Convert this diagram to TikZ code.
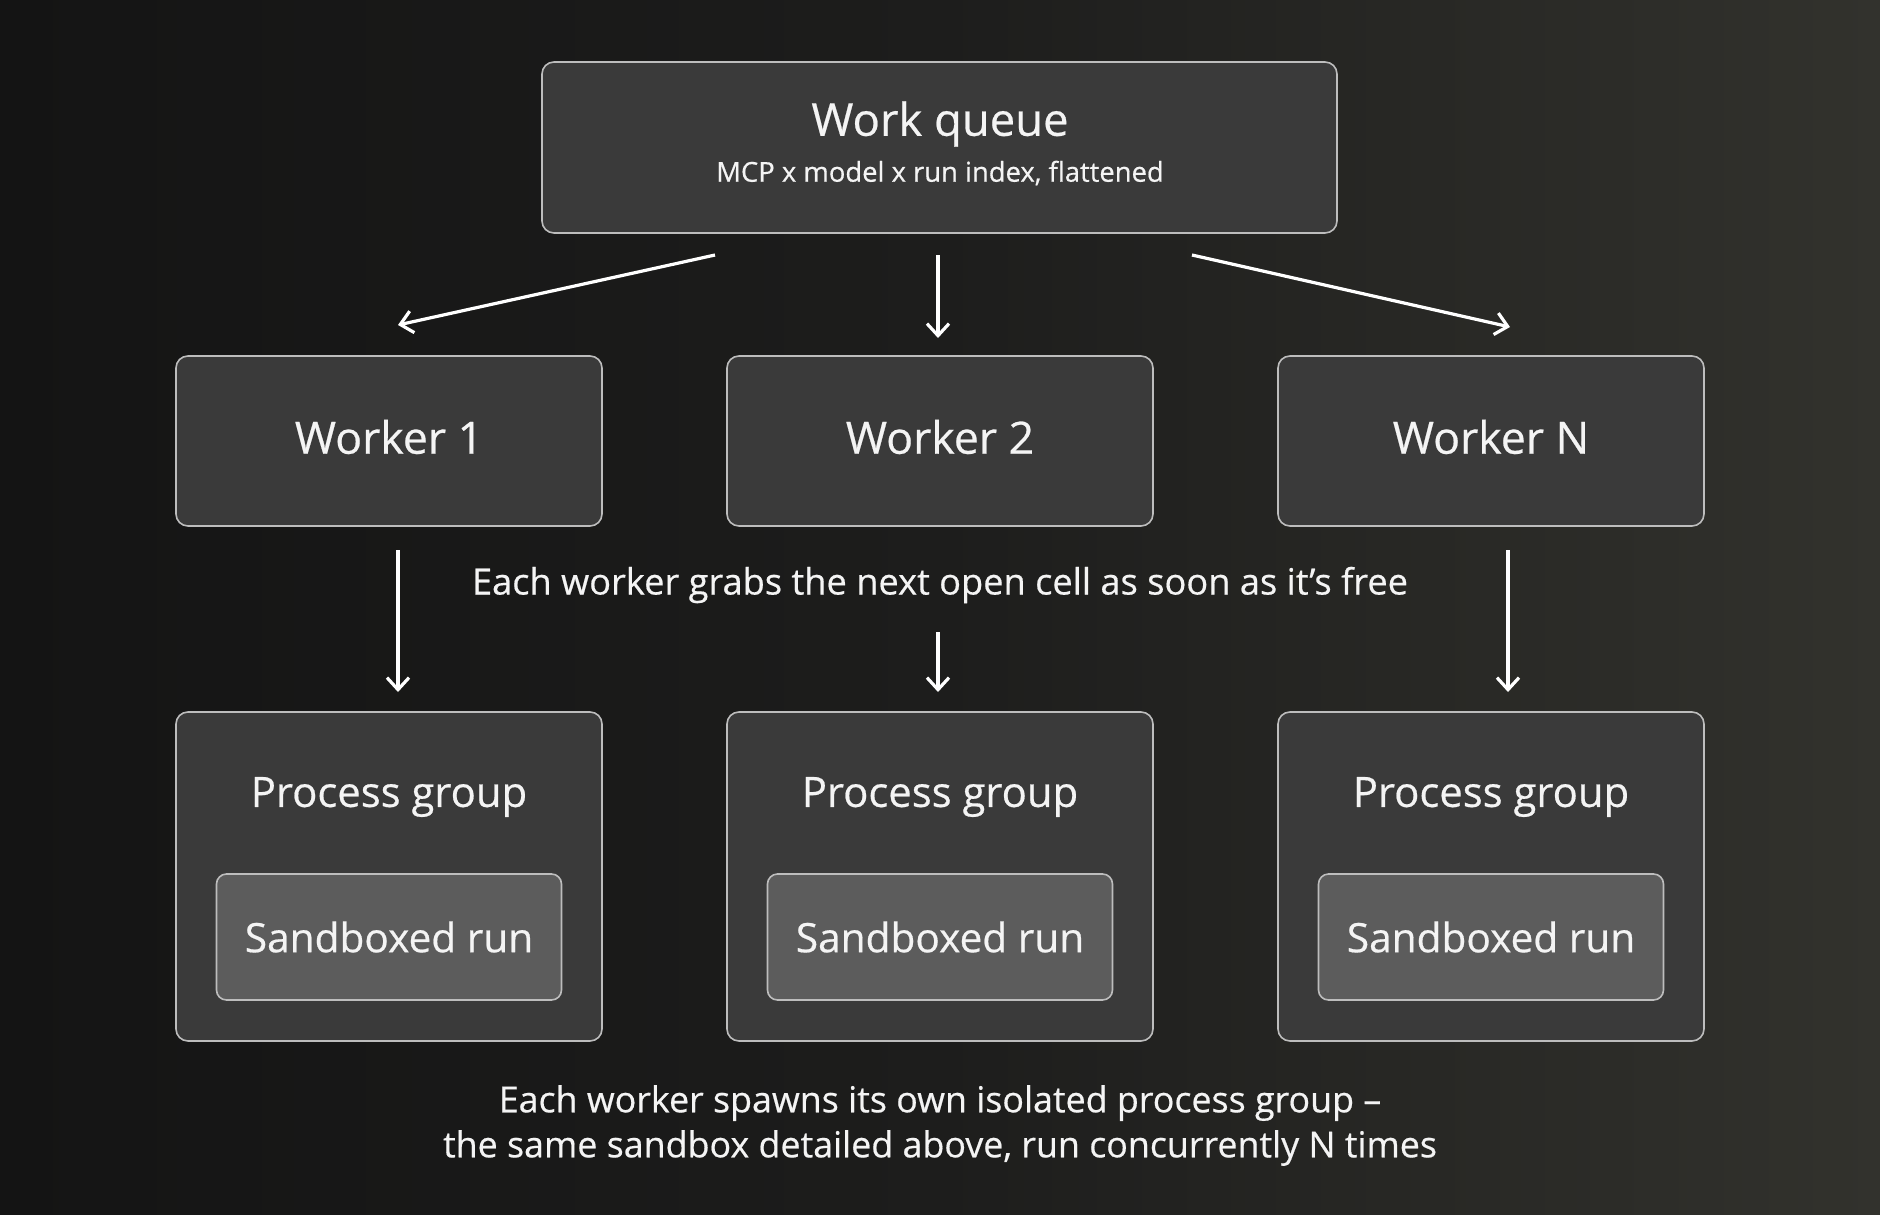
\documentclass[tikz,border=0pt]{standalone}
\usepackage{fontspec}
\setmainfont{Open Sans}[FakeBold=0.5]
\usetikzlibrary{arrows.meta}
\definecolor{bgL}{HTML}{141414}
\definecolor{bgM}{HTML}{1D1D1C}
\definecolor{bgR}{HTML}{32322D}
\definecolor{boxfill}{HTML}{3A3A3A}
\definecolor{boxline}{HTML}{BDBDBD}
\definecolor{innerfill}{HTML}{5C5C5C}
\definecolor{txt}{HTML}{F4F4F4}
\tikzset{
  card/.style={draw=boxline, fill=boxfill, line width=0.8pt, rounded corners=6pt, inner sep=0pt},
  inner/.style={draw=boxline, fill=innerfill, line width=0.8pt, rounded corners=5pt, inner sep=0pt, minimum width=172.5pt, minimum height=63pt},
  lbl/.style={text=txt, inner sep=0pt, anchor=center},
  flow/.style={draw=white, line width=1.6pt, -{Straight Barb[length=6pt,width=11pt,line width=1.6pt]}},
}
\begin{document}
\begin{tikzpicture}[x=0.5pt,y=-0.5pt]
\shade[left color=bgL, right color=bgR, middle color=bgM, shading angle=90] (0,0) rectangle (1880,1215);
\useasboundingbox (0,0) rectangle (1880,1215);
% work queue
\node[card, minimum width=397.5pt, minimum height=85.5pt] (wq) at (939.5,147.5) {};
\node[lbl, font=\fontsize{22.7}{27}\selectfont] (wqt) at (940,124) {Work queue};
\node[lbl, font=\fontsize{13.7}{16}\selectfont] (wqs) at (940,173) {MCP x model x run index, flattened};
% workers
\foreach \n/\x/\t in {w1/389/Worker 1, w2/940/Worker 2, wn/1491/Worker N}{
  \node[card, minimum width=213pt, minimum height=85pt] (\n) at (\x,441) {};
  \node[lbl, font=\fontsize{22.3}{27}\selectfont] (\n t) at (\x,437) {\t};
  \node[card, minimum width=213pt, minimum height=164.5pt] (\n p) at (\x,876.5) {};
  \node[lbl, font=\fontsize{20.9}{25}\selectfont] (\n pt) at (\x,797) {Process group};
  \node[inner] (\n s) at (\x,937) {};
  \node[lbl, font=\fontsize{20.3}{25}\selectfont] (\n st) at (\x,937) {Sandboxed run};
}
% arrows from queue
\coordinate (a1) at (715,255); \coordinate (b1) at (398,325);
\coordinate (a2) at (938,255); \coordinate (b2) at (938,338);
\coordinate (a3) at (1192,255); \coordinate (b3) at (1510,327);
\draw[flow] (a1) -- (b1);
\draw[flow] (a2) -- (b2);
\draw[flow] (a3) -- (b3);
% arrows to process groups
\coordinate (c1) at (398,550); \coordinate (d1) at (398,692);
\coordinate (c2) at (938,632); \coordinate (d2) at (938,692);
\coordinate (c3) at (1508,550); \coordinate (d3) at (1508,692);
\draw[flow] (c1) -- (d1);
\draw[flow] (c2) -- (d2);
\draw[flow] (c3) -- (d3);
\node[lbl, font=\fontsize{18.1}{22}\selectfont] (mid) at (940,585) {Each worker grabs the next open cell as soon as it’s free};
\node[lbl, font=\fontsize{17.9}{22}\selectfont] (bot1) at (940,1103) {Each worker spawns its own isolated process group –};
\node[lbl, font=\fontsize{17.9}{22}\selectfont] (bot2) at (940,1148) {the same sandbox detailed above, run concurrently N times};
\end{tikzpicture}
\end{document}
